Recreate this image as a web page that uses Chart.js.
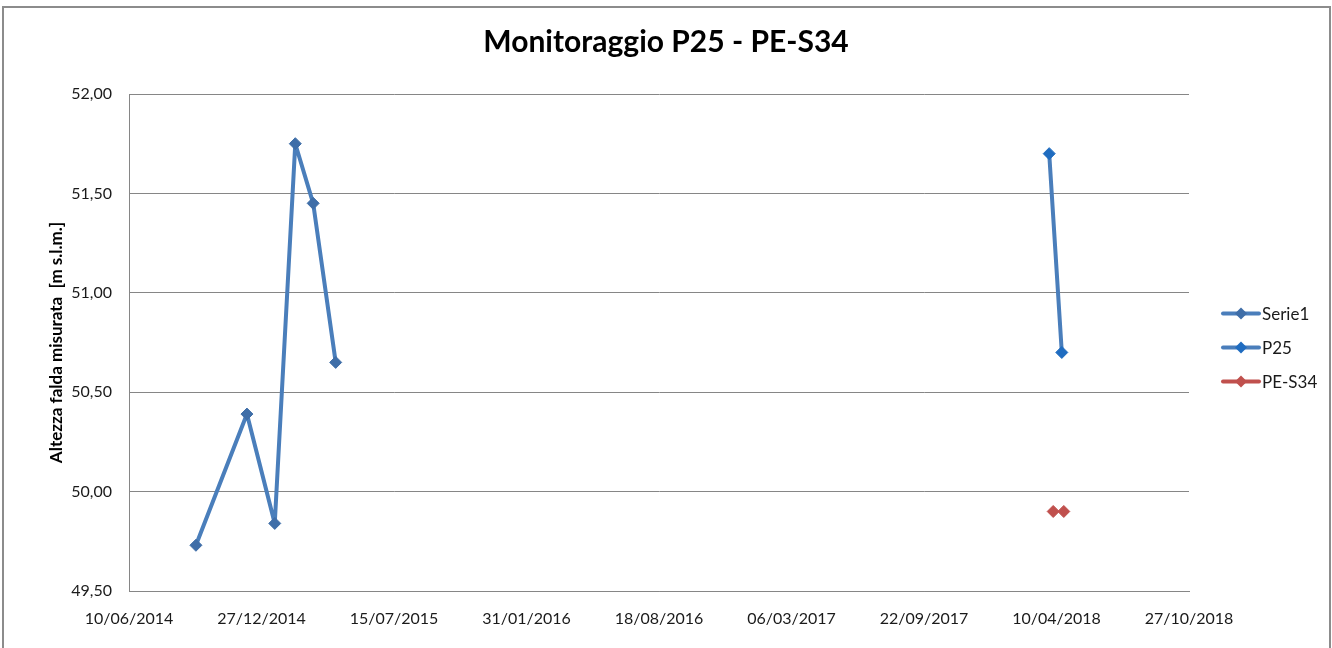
<!DOCTYPE html>
<html>
<head>
<meta charset="utf-8">
<script src="https://cdn.jsdelivr.net/npm/chart.js@4"></script>
<style>
    body { margin: 0; background: #fff; }
    #wrap { position: relative; width: 1332px; height: 648px; overflow: hidden; }
    #frame { position: absolute; left: 2px; top: 6px; width: 1325px; height: 700px; border: 2px solid #8c8c8c; pointer-events: none; }
    canvas { position: absolute; left: 0; top: 0; }
</style>
</head>
<body>
<div id="wrap">
    <canvas id="grafico" width="1332" height="648"></canvas>
    <div id="frame"></div>
</div>
<script>
// --- Dati ---
const dataInizio = '2014-06-10'; // origine dell'asse delle date
const serie1Date = ['2014-09-19', '2014-12-05', '2015-01-16', '2015-02-16', '2015-03-15', '2015-04-18'];
const serie1Valori = [49.73, 50.39, 49.84, 51.75, 51.45, 50.65];
const p25Date = ['2018-03-30', '2018-04-18'];
const p25Valori = [51.70, 50.70];
const pes34Date = ['2018-04-05', '2018-04-21'];
const pes34Valori = [49.90, 49.90];
const nomiSerie = ['Serie1', 'P25', 'PE-S34'];
const yMin = 49.5, yMax = 52.0, yPasso = 0.5;
const xPassoGiorni = 200, xGiorniTotali = 1600;

const FONT = 'Lato, "Open Sans", sans-serif';
const GIORNO = 86400000;

function giorni(d) {
    return (Date.parse(d) - Date.parse(dataInizio)) / GIORNO;
}

function formattaData(g) {
    const d = new Date(Date.parse(dataInizio) + g * GIORNO);
    const dd = String(d.getUTCDate()).padStart(2, '0');
    const mm = String(d.getUTCMonth() + 1).padStart(2, '0');
    return dd + '/' + mm + '/' + d.getUTCFullYear();
}

function punti(date, valori) {
    return date.map((d, i) => ({ x: giorni(d), y: valori[i] }));
}

// legenda disegnata a mano: linea + rombo come in Excel
const legendaExcel = {
    id: 'legendaExcel',
    afterDraw(chart) {
        const ctx = chart.ctx;
        ctx.save();
        chart.data.datasets.forEach((ds, i) => {
            const y = 313.5 + i * 34;
            ctx.strokeStyle = ds.borderColor;
            ctx.lineWidth = 4;
            ctx.lineCap = 'round';
            ctx.beginPath();
            ctx.moveTo(1223, y);
            ctx.lineTo(1259, y);
            ctx.stroke();
            ctx.fillStyle = ds.pointBackgroundColor;
            ctx.beginPath();
            ctx.moveTo(1241, y - 6);
            ctx.lineTo(1247, y);
            ctx.lineTo(1241, y + 6);
            ctx.lineTo(1235, y);
            ctx.closePath();
            ctx.fill();
            ctx.fillStyle = '#1a1a1a';
            ctx.font = '17px ' + FONT;
            ctx.textBaseline = 'middle';
            ctx.fillText(ds.label, 1262, y + 1);
        });
        ctx.restore();
    }
};

const grafico = new Chart(document.getElementById('grafico'), {
    type: 'line',
    data: {
        datasets: [
            {
                label: nomiSerie[0],
                data: punti(serie1Date, serie1Valori),
                borderColor: '#4a7ebb',
                pointBackgroundColor: '#3f6ea8',
                pointBorderColor: '#3f6ea8'
            },
            {
                label: nomiSerie[1],
                data: punti(p25Date, p25Valori),
                borderColor: '#4a7ebb',
                pointBackgroundColor: '#1f6cc0',
                pointBorderColor: '#1f6cc0'
            },
            {
                label: nomiSerie[2],
                data: punti(pes34Date, pes34Valori),
                borderColor: '#c0504d',
                pointBackgroundColor: '#c0504d',
                pointBorderColor: '#c0504d',
                showLine: false
            }
        ]
    },
    options: {
        responsive: false,
        animation: false,
        layout: { padding: 0 },
        elements: {
            line: { borderWidth: 4, tension: 0, borderJoinStyle: 'round', borderCapStyle: 'round' },
            point: { pointStyle: 'rectRot', radius: 6, borderWidth: 1 }
        },
        plugins: {
            legend: { display: false },
            tooltip: { enabled: false },
            title: {
                display: true,
                text: 'Monitoraggio P25 - PE-S34',
                color: '#000',
                font: { family: FONT, size: 30, weight: 'bold', lineHeight: 1.2 },
                padding: { top: 24, bottom: 34 }
            }
        },
        scales: {
            x: {
                type: 'linear',
                min: 0,
                max: xGiorniTotali,
                afterFit(scale) { scale.height = 57; },
                grid: { display: false, drawTicks: false },
                border: { display: true, color: '#868686', width: 1 },
                ticks: {
                    stepSize: xPassoGiorni,
                    padding: 18,
                    color: '#1a1a1a',
                    font: { family: FONT, size: 16 },
                    maxRotation: 0,
                    autoSkip: false,
                    callback: v => formattaData(v)
                }
            },
            y: {
                min: yMin,
                max: yMax,
                afterFit(scale) { scale.width = 129; },
                grid: { color: '#868686', lineWidth: 1, drawTicks: false },
                border: { display: true, color: '#868686', width: 1 },
                ticks: {
                    stepSize: yPasso,
                    padding: 17,
                    color: '#1a1a1a',
                    font: { family: FONT, size: 16 },
                    callback: v => v.toFixed(2).replace('.', ',')
                },
                title: {
                    display: true,
                    text: 'Altezza falda misurata  [m s.l.m.]',
                    color: '#000',
                    font: { family: FONT, size: 17, weight: 'bold' },
                    padding: { top: 46, bottom: 0 }
                }
            },
            // asse vuoto a destra: lascia lo spazio per la legenda
            spazio: {
                type: 'linear',
                position: 'right',
                afterFit(scale) { scale.width = 143; },
                grid: { display: false, drawTicks: false },
                border: { display: false },
                ticks: { display: false }
            }
        }
    },
    plugins: [legendaExcel]
});
</script>
</body>
</html>
